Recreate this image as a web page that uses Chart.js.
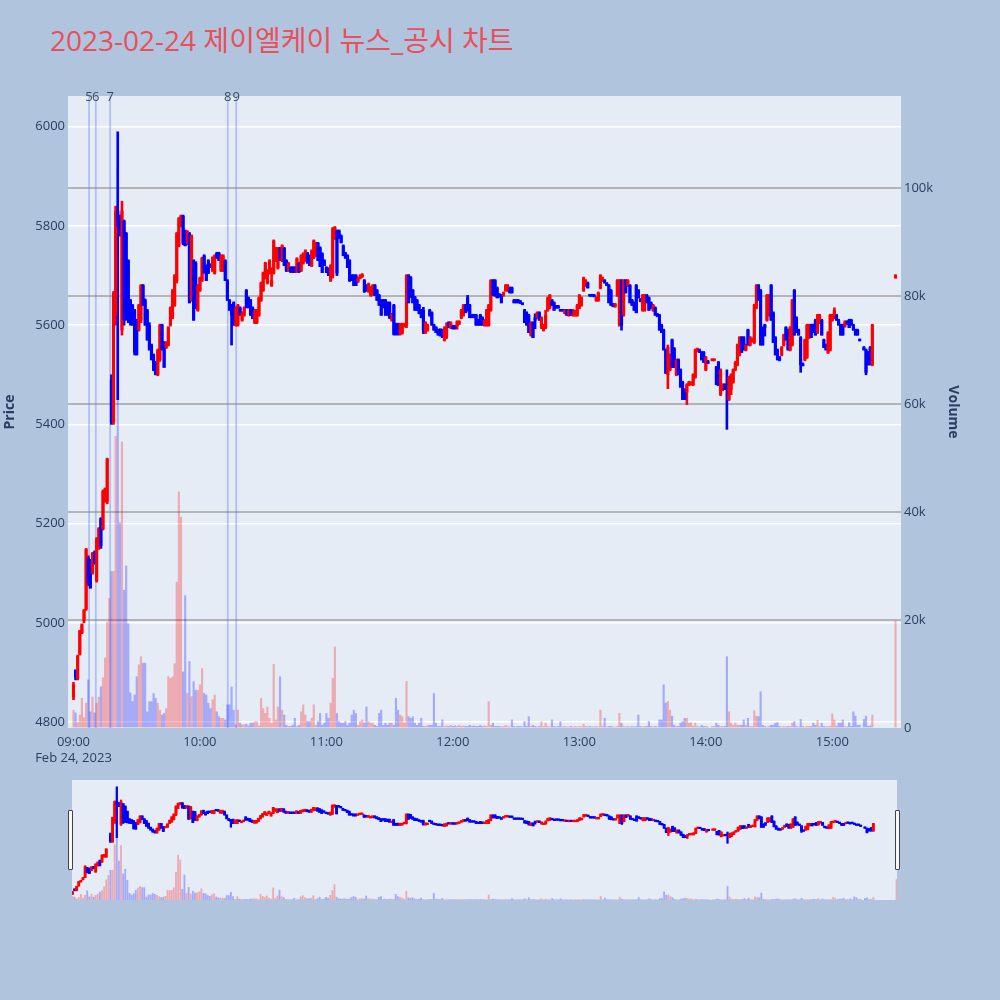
<!DOCTYPE html>
<html>
<head>
<meta charset="utf-8">
<script src="https://cdn.jsdelivr.net/npm/chart.js"></script>
<style>
html,body{margin:0;padding:0;background:#b0c4de;width:1000px;height:1000px;overflow:hidden;}
#title{position:absolute;left:50px;top:22px;font-family:'Open Sans','Noto Sans CJK KR',sans-serif;font-size:28px;color:#e8505b;white-space:nowrap;line-height:36px;}
#main{position:absolute;left:0;top:0;}
#slider{position:absolute;left:72px;top:780px;}
.handle{position:absolute;top:810px;width:3px;height:58px;background:#f8f8f8;border:1px solid #444;border-radius:1px;}
</style>
</head>
<body>
<div id="title">2023-02-24 제이엘케이 뉴스_공시 차트</div>
<canvas id="main" width="1000" height="770"></canvas>
<canvas id="slider" width="825" height="120"></canvas>
<div class="handle" style="left:68px"></div>
<div class="handle" style="left:895px"></div>
<script>
const N = null;
// minute offsets from 09:00 (index = minute)
const startHour = 9;
const timeTicks = [0, 60, 120, 180, 240, 300, 360];
const dateLabel = 'Feb 24, 2023';
const priceTicks = [4800, 5000, 5200, 5400, 5600, 5800, 6000];
const volumeTicks = [0, 20000, 40000, 60000, 80000, 100000];
const newsMinutes = [7.4, 10.6, 17.4, 73.2, 77.2];
const newsLabels = ['5', '6', '7', '8', '9'];

const open = [
4850,4905,4888,4937,4980,5005,5028,5130,5125,5100,
5140,5085,5150,5210,5190,5245,5245,N,5490,5405,
5620,5830,5820,5590,5810,5785,5730,5650,5640,5630,
5610,5590,5610,5680,5650,5630,5600,5560,5540,5525,
5500,5530,5600,5565,5555,5560,5600,5615,5640,5690,
5760,5800,5820,5790,5765,5785,5650,5730,5725,5630,
5670,5690,5740,5720,5730,5722,5710,5705,5745,5745,
5710,5710,5730,5690,5650,5640,5645,5600,5600,5635,
5610,5620,5670,5655,5650,5635,5605,5605,5620,5650,
5670,5695,5685,5705,5680,5705,5730,5715,5755,5730,
5755,5730,5710,5716,5716,5716,5708,5725,5710,5725,
5730,5745,5740,5720,5736,5740,5765,5756,5744,5730,
5716,5714,5690,5700,5775,5790,5790,5780,5760,5745,
5740,5730,5700,5700,5700,5688,5695,5698,5690,5680,
5668,5660,5662,5680,5670,5660,5650,5650,5650,5645,
5645,5610,5640,5602,5602,5582,5584,5598,5600,5700,
5696,5670,5656,5650,5640,5630,5630,5585,5590,5630,
5625,5600,5595,5590,5590,5590,5570,5575,5605,5595,
5598,5598,5598,5603,5615,5620,5640,5655,5640,5620,
5620,5620,5610,5620,5615,5600,5600,5600,5630,5690,
5690,5675,5662,5660,5660,5670,5670,5675,5675,5650,
5650,5650,5648,5644,5630,5625,5620,5580,5605,5615,
5615,5625,5595,5590,5595,5630,5635,5650,5645,5638,
5638,5631,5631,5625,5630,5620,5630,5620,5620,5620,
5635,5640,5670,5680,5685,5661,5661,5660,5650,5650,
5675,5690,5690,5684,5680,5670,5642,5638,5660,5600,
5690,5620,5690,5680,5680,5650,5645,5680,5670,5652,
5630,5630,5660,5655,5645,5630,5635,5622,5620,5600,
5590,5550,5500,5510,5570,5553,5500,5530,5510,5485,
5470,5465,5480,5481,5480,5495,5548,5550,5545,5545,
5510,5527,N,5529,5529,5515,5525,5460,5470,5480,
5480,5450,5470,5485,5510,5520,5540,5575,5575,5550,
5590,5560,5568,5565,5635,5680,5670,5595,5600,5610,
5620,5680,5625,5575,5550,5535,5540,5560,5595,5590,
5550,5560,5670,5615,5590,5575,5522,5530,5535,5575,
5600,5600,5610,5585,5605,5610,5570,5560,5545,5550,
5610,5615,5620,5610,5600,5600,5598,5607,5610,5610,
5600,5590,5590,5571,N,5555,5550,5545,5555,5520,
N,N,N,N,N,N,N,N,N,N,
5695];

const high = [
4880,4905,4935,4985,4998,5027,5150,5135,5128,5142,
5145,5172,5192,5212,5268,5272,5332,N,5500,5668,
5840,5990,5822,5850,5812,5787,5732,5652,5642,5632,
5612,5642,5682,5682,5653,5632,5605,5562,5542,5527,
5552,5602,5602,5567,5567,5597,5637,5672,5702,5787,
5817,5822,5822,5792,5790,5787,5782,5732,5728,5682,
5697,5737,5742,5722,5732,5724,5738,5742,5747,5747,
5742,5742,5732,5692,5652,5642,5647,5637,5642,5637,
5627,5637,5672,5657,5652,5637,5632,5632,5657,5687,
5707,5727,5712,5732,5716,5772,5757,5757,5757,5762,
5757,5732,5727,5718,5718,5718,5736,5727,5742,5746,
5752,5747,5742,5752,5772,5767,5767,5758,5746,5732,
5718,5716,5722,5797,5799,5792,5792,5782,5762,5747,
5742,5732,5702,5702,5702,5697,5702,5704,5692,5682,
5685,5678,5682,5682,5672,5662,5652,5652,5652,5647,
5647,5624,5642,5604,5604,5604,5604,5604,5702,5702,
5698,5672,5658,5652,5642,5632,5636,5607,5602,5632,
5627,5602,5597,5592,5593,5592,5597,5605,5607,5607,
5600,5600,5609,5609,5632,5642,5642,5660,5642,5622,
5622,5622,5612,5622,5617,5612,5632,5642,5692,5692,
5692,5677,5664,5662,5667,5682,5682,5677,5677,5652,
5652,5652,5650,5645,5632,5627,5622,5607,5607,5623,
5627,5627,5617,5602,5630,5657,5662,5652,5647,5640,
5640,5632,5632,5632,5632,5632,5632,5632,5630,5642,
5662,5657,5697,5692,5687,5662,5662,5662,5657,5667,
5702,5697,5692,5686,5682,5672,5644,5644,5692,5692,
5692,5692,5692,5692,5682,5652,5647,5682,5672,5654,
5662,5662,5662,5657,5647,5642,5637,5624,5622,5602,
5592,5552,5560,5542,5572,5555,5532,5532,5512,5487,
5472,5482,5487,5486,5502,5552,5554,5552,5547,5547,
5537,5529,N,5532,5532,5517,5527,5512,5482,5482,
5510,5497,5502,5512,5527,5562,5577,5577,5577,5562,
5592,5577,5574,5642,5682,5682,5672,5597,5602,5662,
5662,5682,5627,5577,5552,5537,5557,5582,5597,5592,
5597,5652,5672,5617,5592,5577,5524,5572,5602,5602,
5602,5602,5612,5622,5622,5612,5572,5562,5587,5622,
5622,5635,5622,5612,5602,5602,5609,5609,5612,5612,
5602,5592,5592,5572,N,5557,5552,5547,5557,5602,
N,N,N,N,N,N,N,N,N,N,
5702];

const low = [
4845,4885,4885,4935,4978,5000,5025,5075,5070,5098,
5118,5082,5148,5150,5187,5243,5240,N,5400,5400,
5600,5450,5780,5580,5600,5610,5605,5600,5600,5540,
5540,5588,5605,5640,5600,5570,5550,5530,5508,5500,
5498,5527,5550,5515,5553,5558,5598,5613,5638,5685,
5758,5798,5762,5760,5762,5645,5648,5610,5633,5628,
5668,5688,5705,5690,5704,5716,5708,5703,5735,5730,
5708,5708,5690,5650,5630,5560,5600,5598,5598,5620,
5608,5618,5635,5635,5620,5613,5603,5603,5618,5648,
5668,5693,5683,5703,5678,5703,5728,5713,5730,5728,
5720,5708,5708,5706,5706,5706,5706,5706,5708,5723,
5728,5725,5720,5718,5734,5738,5730,5718,5706,5720,
5706,5700,5688,5695,5773,5700,5775,5766,5740,5735,
5716,5688,5690,5680,5680,5686,5693,5696,5666,5668,
5666,5658,5660,5660,5650,5640,5620,5635,5620,5620,
5613,5608,5580,5580,5580,5580,5582,5596,5595,5645,
5656,5645,5630,5630,5623,5615,5583,5583,5588,5618,
5600,5590,5585,5580,5578,5575,5568,5573,5595,5593,
5592,5592,5592,5601,5613,5618,5625,5628,5615,5615,
5615,5600,5600,5600,5600,5598,5598,5598,5628,5660,
5658,5655,5656,5645,5658,5668,5668,5665,5665,5645,
5645,5645,5644,5641,5605,5600,5585,5578,5575,5593,
5613,5610,5593,5588,5593,5628,5633,5640,5630,5634,
5634,5628,5628,5623,5620,5618,5620,5618,5618,5618,
5633,5638,5668,5678,5675,5658,5658,5657,5648,5648,
5673,5688,5685,5680,5645,5640,5637,5636,5658,5598,
5590,5618,5665,5678,5645,5640,5630,5625,5655,5647,
5628,5628,5645,5630,5633,5628,5620,5617,5590,5585,
5550,5503,5472,5508,5515,5515,5498,5500,5475,5450,
5450,5440,5478,5479,5478,5493,5546,5545,5530,5525,
5508,5523,N,5528,5528,5480,5478,5458,5468,5470,
5390,5448,5460,5483,5508,5518,5538,5545,5550,5548,
5560,5558,5566,5563,5633,5650,5560,5560,5578,5608,
5618,5610,5565,5540,5530,5528,5538,5558,5570,5550,
5548,5558,5580,5585,5580,5505,5518,5528,5533,5573,
5575,5585,5580,5583,5603,5580,5555,5550,5543,5548,
5608,5613,5610,5600,5580,5580,5596,5601,5595,5600,
5590,5580,5580,5568,N,5550,5500,5520,5520,5518,
N,N,N,N,N,N,N,N,N,N,
5695];

const close = [
4875,4890,4933,4983,4996,5025,5148,5080,5070,5140,
5120,5170,5190,5155,5265,5270,5330,N,5405,5665,
5830,5800,5780,5830,5610,5615,5610,5605,5600,5545,
5540,5640,5680,5640,5600,5570,5550,5530,5510,5500,
5550,5600,5550,5515,5565,5595,5635,5670,5700,5785,
5815,5820,5765,5760,5790,5645,5780,5610,5635,5680,
5695,5735,5705,5690,5705,5718,5736,5740,5735,5730,
5740,5740,5690,5650,5630,5620,5600,5635,5640,5620,
5625,5635,5635,5635,5620,5613,5630,5630,5655,5685,
5705,5725,5710,5730,5690,5770,5755,5755,5730,5760,
5720,5710,5725,5708,5708,5708,5734,5708,5740,5744,
5750,5725,5720,5750,5770,5765,5730,5718,5706,5720,
5706,5700,5720,5795,5797,5705,5775,5766,5740,5735,
5716,5690,5690,5680,5680,5695,5700,5702,5668,5670,
5683,5676,5680,5660,5650,5640,5620,5635,5620,5620,
5615,5622,5582,5582,5582,5602,5602,5602,5700,5645,
5656,5645,5630,5630,5623,5615,5590,5605,5600,5620,
5600,5590,5585,5580,5580,5575,5595,5597,5595,5605,
5594,5594,5607,5607,5630,5640,5625,5630,5615,5615,
5615,5600,5600,5600,5600,5610,5630,5640,5690,5660,
5660,5655,5658,5645,5665,5680,5680,5665,5665,5645,
5645,5645,5644,5642,5605,5600,5585,5605,5575,5610,
5625,5610,5615,5600,5620,5655,5660,5640,5630,5635,
5635,5629,5629,5630,5620,5630,5620,5622,5628,5640,
5660,5655,5695,5690,5675,5659,5659,5658,5655,5665,
5700,5695,5685,5680,5645,5640,5638,5642,5690,5690,
5600,5690,5665,5690,5645,5640,5630,5625,5655,5648,
5660,5660,5645,5630,5635,5640,5620,5618,5590,5585,
5550,5503,5555,5540,5515,5515,5530,5500,5475,5450,
5450,5480,5485,5484,5500,5550,5552,5545,5530,5525,
5535,5523,N,5531,5531,5480,5478,5510,5480,5470,
5475,5495,5500,5510,5525,5560,5575,5545,5550,5560,
5560,5575,5572,5640,5680,5650,5560,5560,5595,5660,
5660,5610,5565,5540,5530,5530,5555,5580,5570,5550,
5595,5650,5580,5585,5580,5520,5518,5570,5600,5600,
5575,5585,5580,5620,5620,5580,5555,5550,5585,5620,
5620,5630,5610,5600,5580,5580,5607,5603,5595,5600,
5590,5580,5580,5569,N,5550,5505,5520,5520,5600,
N,N,N,N,N,N,N,N,N,N,
5700];

const volume = [
3300,2800,1000,2400,5500,1900,4600,8900,3000,5700,
2800,4600,5700,7600,9300,13000,19600,24000,29000,29000,
54000,103500,38000,53000,25500,30000,19300,6500,4900,6100,
9500,11700,13200,12000,12000,3000,4900,4900,6400,5500,
4600,3300,2400,2700,3600,9500,9200,9500,11900,27000,
43700,39000,10400,24500,6400,12300,5800,8600,7000,7000,
8000,11000,6400,6100,4600,3600,5200,6100,3000,2100,
1800,1800,1500,4300,4300,7600,3300,600,3300,900,
600,600,700,400,900,900,1200,1200,400,5500,
3600,2700,3900,1800,900,11800,1500,3900,9500,3300,
2400,500,300,300,500,1800,300,500,3000,4300,
2400,1200,1200,1800,4300,500,1200,2700,500,900,
2700,1800,4600,9200,15000,2700,1200,900,900,1200,
500,900,2400,3300,2700,500,1200,1500,900,3900,
1200,900,900,500,300,2700,3300,500,900,500,
900,900,500,5500,3300,2400,2100,900,8600,2100,
1800,2100,900,500,900,1800,300,300,500,500,
500,6400,900,300,300,1500,300,400,300,500,
300,400,300,500,300,400,300,300,500,300,
400,300,300,500,300,400,300,4900,500,900,
300,300,300,200,300,500,300,200,1500,300,
200,300,300,200,1200,300,2100,300,500,300,
200,300,1200,300,900,300,200,1500,300,200,
300,1200,200,300,200,200,300,200,300,200,
300,200,700,300,200,300,200,200,300,200,
3300,300,1800,200,300,300,200,200,300,2700,
900,300,200,300,200,300,200,300,2400,300,
200,300,300,1200,300,200,300,200,1500,1500,
8000,4600,4900,3300,2200,500,300,300,900,1200,
1800,1800,900,1000,300,900,300,200,500,300,
300,200,N,300,300,900,500,300,300,300,
13200,3000,900,500,900,500,500,500,1500,500,
1800,300,300,3200,2200,2100,6700,500,300,200,
300,500,500,900,1000,300,200,300,200,300,
300,900,1200,300,200,1600,300,200,300,300,
300,900,500,1400,300,900,300,200,300,300,
2600,1500,300,900,900,1500,300,200,1000,300,
3000,2200,500,500,N,1600,2200,300,400,2400,
N,N,N,N,N,N,N,N,N,N,
19800];

const lens = [open.length, high.length, low.length, close.length, volume.length];
if (new Set(lens).size !== 1) throw new Error('length mismatch ' + lens.join(','));

const RED = '#ff0000', BLUE = '#0000ff';
const VRED = 'rgba(255,0,0,0.28)', VBLUE = 'rgba(0,0,255,0.28)';
const FONT = "'Open Sans', 'Noto Sans CJK KR', sans-serif";
const TXT = '#2a3f5f';

function buildSets(wickW, bodyW, volW) {
  const wick = [], body = [], vol = [], cc = [], vc = [];
  for (let i = 0; i < open.length; i++) {
    const has = open[i] != null;
    const up = has ? close[i] >= open[i] : true;
    if (has) {
      wick.push({x: i, y: [low[i], high[i]]});
      body.push({x: i, y: [open[i], close[i]]});
      cc.push(up ? RED : BLUE);
    }
    if (volume[i] != null) { vol.push({x: i, y: volume[i]}); vc.push(up ? VRED : VBLUE); }
  }
  return [
    {type: 'bar', data: vol, yAxisID: 'y1', backgroundColor: vc, barThickness: volW, grouped: false, order: 3},
    {type: 'bar', data: wick, yAxisID: 'y', backgroundColor: cc, barThickness: wickW, grouped: false, minBarLength: 1, order: 2},
    {type: 'bar', data: body, yAxisID: 'y', backgroundColor: cc, barThickness: bodyW, grouped: false, minBarLength: 1.5, order: 1}
  ];
}

const bgPlugin = {
  id: 'plotbg',
  beforeDraw(c) {
    const {ctx, chartArea: a} = c;
    ctx.save(); ctx.fillStyle = '#e5ecf6';
    ctx.fillRect(a.left, a.top, a.right - a.left, a.bottom - a.top);
    ctx.restore();
  }
};

const newsPlugin = {
  id: 'news',
  beforeDatasetsDraw(c) {
    const {ctx, chartArea: a, scales: {x}} = c;
    ctx.save();
    ctx.strokeStyle = 'rgba(95,125,240,0.4)'; ctx.lineWidth = 1.8;
    newsMinutes.forEach(m => {
      const px = x.getPixelForValue(m);
      ctx.beginPath(); ctx.moveTo(px, a.top); ctx.lineTo(px, a.bottom); ctx.stroke();
    });
    ctx.restore();
  },
  afterDraw(c) {
    const {ctx, chartArea: a, scales: {x}} = c;
    ctx.save();
    ctx.fillStyle = '#3b4a60'; ctx.font = '13px ' + FONT;
    ctx.textAlign = 'center'; ctx.textBaseline = 'middle';
    newsMinutes.forEach((m, i) => ctx.fillText(newsLabels[i], x.getPixelForValue(m), a.top + 1));
    ctx.restore();
  }
};

function hhmm(v) {
  const h = startHour + Math.floor(v / 60), m = v % 60;
  return String(h).padStart(2, '0') + ':' + String(m).padStart(2, '0');
}

new Chart(document.getElementById('main'), {
  data: {datasets: buildSets(2, 2.5, 1.5)},
  options: {
    responsive: false, animation: false, devicePixelRatio: 1,
    layout: {padding: {top: 96, right: 37, left: 0, bottom: 0}},
    plugins: {legend: {display: false}, tooltip: {enabled: false}},
    scales: {
      x: {
        type: 'linear', min: -2.6, max: 392.6, offset: false,
        grid: {display: false, drawTicks: false, offset: false}, border: {display: false},
        afterBuildTicks: s => { s.ticks = timeTicks.map(v => ({value: v})); },
        afterFit: s => { s.height = 42; },
        ticks: {
          autoSkip: false, maxRotation: 0, padding: 6, color: TXT,
          font: {family: FONT, size: 13, lineHeight: 1.25},
          callback: v => v === 0 ? [hhmm(v), dateLabel] : hhmm(v)
        }
      },
      y: {
        position: 'left', min: 4788, max: 6062,
        afterBuildTicks: s => { s.ticks = priceTicks.map(v => ({value: v})); },
        afterFit: s => { s.width = 68; },
        grid: {color: '#ffffff', lineWidth: 1.5, drawTicks: false}, border: {display: false},
        ticks: {padding: 3, color: TXT, font: {family: FONT, size: 13}, callback: v => String(v)},
        title: {display: true, text: 'Price', color: TXT, font: {family: FONT, size: 14, weight: 'bold'}, padding: {top: 2, bottom: 0}}
      },
      y1: {
        position: 'right', min: 0, max: 117000,
        afterBuildTicks: s => { s.ticks = volumeTicks.map(v => ({value: v})); },
        afterFit: s => { s.width = 62; },
        grid: {color: c => c.tick && c.tick.value === 0 ? 'rgba(0,0,0,0)' : '#b4b4b4', lineWidth: 2, drawTicks: false},
        border: {display: false},
        ticks: {padding: 3, color: TXT, font: {family: FONT, size: 13}, callback: v => v === 0 ? '0' : (v / 1000) + 'k'},
        title: {display: true, text: 'Volume', color: TXT, font: {family: FONT, size: 14, weight: 'bold'}, padding: {top: 2, bottom: 0}}
      }
    }
  },
  plugins: [bgPlugin, newsPlugin]
});

new Chart(document.getElementById('slider'), {
  data: {datasets: buildSets(1.6, 2.2, 1.2)},
  options: {
    responsive: false, animation: false, devicePixelRatio: 1,
    layout: {padding: 0},
    plugins: {legend: {display: false}, tooltip: {enabled: false}},
    scales: {
      x: {type: 'linear', min: -0.2, max: 390.2, display: false, offset: false},
      y: {min: 4788, max: 6062, display: false},
      y1: {min: 0, max: 117000, display: false}
    }
  },
  plugins: [bgPlugin]
});
</script>
</body>
</html>
